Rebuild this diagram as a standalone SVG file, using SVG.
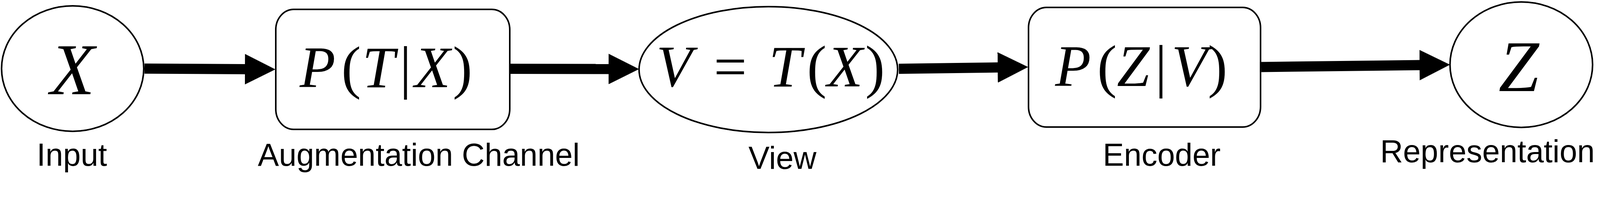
<svg xmlns="http://www.w3.org/2000/svg" width="4248" height="504" viewBox="0 0 4248 504">
  <style>
    .shape { fill: #ffffff; stroke: #000000; stroke-width: 4; }
    .label { font-family: "Liberation Sans", Arial, sans-serif; font-size: 81px; fill: #000000; text-anchor: middle; }
    .math { font-family: "Liberation Serif", "Times New Roman", serif; font-style: italic; fill: #000000; text-anchor: middle; }
    .up { font-style: normal; }
    .shaft { stroke: #000000; stroke-width: 26; fill: none; marker-end: url(#head); }
  </style>
  <defs>
    <marker id="head" markerUnits="userSpaceOnUse" viewBox="0 0 78 78" markerWidth="78" markerHeight="78" refX="2" refY="39" orient="auto">
      <path d="M0,0 L78,39 L0,78 Z" fill="#000000"/>
    </marker>
  </defs>

  <g id="connectors">
    <line class="shaft" x1="370" y1="175.5" x2="629" y2="177"/>
    <line class="shaft" x1="1307" y1="176" x2="1560" y2="176.5"/>
    <line class="shaft" x1="2301" y1="176" x2="2556" y2="172.5"/>
    <line class="shaft" x1="3229" y1="171.5" x2="3636" y2="166.5"/>
  </g>

  <g id="input">
    <ellipse class="shape" cx="186" cy="175.5" rx="182" ry="160.5"/>
    <text class="math" x="185.5" y="241" font-size="186">X</text>
    <text class="label" x="184" y="424">Input</text>
  </g>

  <g id="augmentation">
    <rect class="shape" x="706" y="24" width="599" height="307" rx="46" ry="52"/>
    <text class="math" y="223" font-size="150"><tspan x="813">P</tspan><tspan class="up" x="899">(</tspan><tspan x="969">T</tspan><tspan class="up" x="1038">|</tspan><tspan x="1107">X</tspan><tspan class="up" x="1184">)</tspan></text>
    <text class="label" x="1072" y="424">Augmentation Channel</text>
  </g>

  <g id="view">
    <ellipse class="shape" cx="1967" cy="178" rx="331" ry="161"/>
    <text class="math" y="221" font-size="150"><tspan x="1726">V</tspan><tspan class="up" x="1869.5">=</tspan><tspan x="2010">T</tspan><tspan class="up" x="2091">(</tspan><tspan x="2163">X</tspan><tspan class="up" x="2240">)</tspan></text>
    <text class="label" x="2003" y="432">View</text>
  </g>

  <g id="encoder">
    <rect class="shape" x="2633" y="19" width="594" height="306" rx="46" ry="52"/>
    <text class="math" y="220" font-size="150"><tspan x="2747">P</tspan><tspan class="up" x="2834">(</tspan><tspan x="2901">Z</tspan><tspan class="up" x="2972">|</tspan><tspan x="3045">V</tspan><tspan class="up" x="3117">)</tspan></text>
    <text class="label" x="2974" y="424">Encoder</text>
  </g>

  <g id="representation">
    <ellipse class="shape" cx="3894.5" cy="165.5" rx="182.5" ry="160.5"/>
    <text class="math" x="3888" y="233" font-size="186">Z</text>
    <text class="label" x="3808" y="415">Representation</text>
  </g>
</svg>
